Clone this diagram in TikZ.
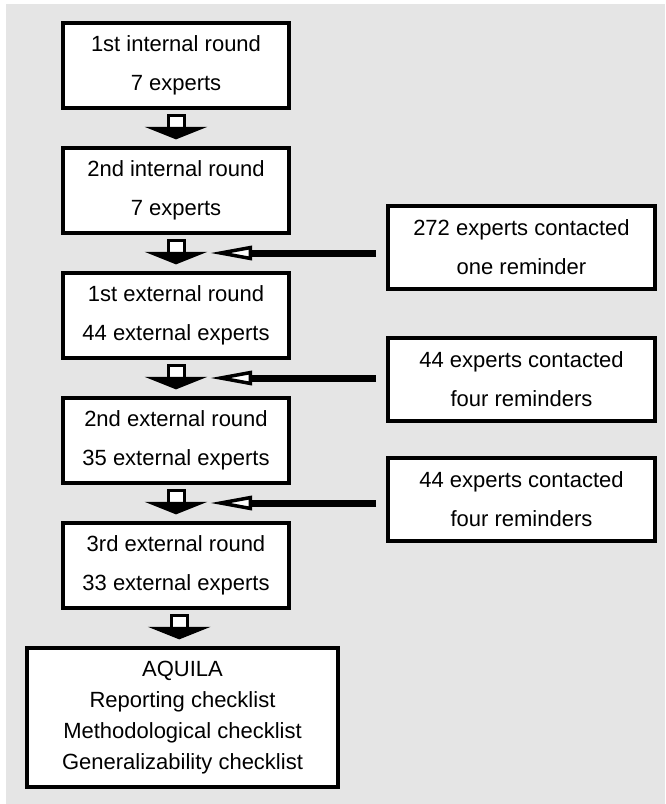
\documentclass[tikz,border=0pt]{standalone}
\usepackage{fontspec}
\setmainfont{Liberation Sans}
\usetikzlibrary{arrows.meta,calc}

\begin{document}
\begin{tikzpicture}[x=1pt,y=-1pt,
  round/.style={draw,line width=4pt,fill=white,minimum width=226pt,minimum height=85pt,inner sep=0pt,align=center,font=\fontsize{22}{39}\selectfont},
  contact/.style={round,minimum width=267pt,minimum height=83pt},
  reminder/.style={line width=7pt,shorten <=10pt,-{Triangle[length=42pt,width=14pt,fill=white,line width=3.5pt]}}]
  \fill[black!10] (6,4) rectangle (665,804);
  \useasboundingbox (0,0) rectangle (665,804);
  % rounds
  \node[round] (r1) at (176,65.5) {1st internal round\\7 experts};
  \node[round] (r2) at (176,190.5) {2nd internal round\\7 experts};
  \node[round] (r3) at (176,315.5) {1st external round\\44 external experts};
  \node[round] (r4) at (176,440.5) {2nd external round\\35 external experts};
  \node[round] (r5) at (176,565.5) {3rd external round\\33 external experts};
  \node[round,minimum width=311pt,minimum height=139pt,font=\fontsize{22}{31}\selectfont] (res) at (182.5,717.5)
    {AQUILA\\Reporting checklist\\Methodological checklist\\Generalizability checklist};
  % contacts
  \node[contact] (c1) at (521.5,247) {272 experts contacted\\one reminder};
  \node[contact] (c2) at (521.5,379.5) {44 experts contacted\\four reminders};
  \node[contact] (c3) at (521.5,499) {44 experts contacted\\four reminders};
  % block arrows
  \foreach \a/\b in {r1/r2,r2/r3,r3/r4,r4/r5,r5/res} {
    \coordinate (m) at ($(\a.south)!.5!(\b.north)$);
    \draw[line width=3pt,fill=white] ($(m)+(-8,-13)$) rectangle ($(m)+(8,0)$);
    \draw[line width=2.5pt,fill=black,line join=miter] ($(m)+(-25,0)$) -- ($(m)+(25,0)$) -- ($(m)+(0,10)$) -- cycle;
  }
  % reminders
  \coordinate (t1) at ($(r2.south)!.5!(r3.north)+(34,0)$);
  \coordinate (t2) at ($(r3.south)!.5!(r4.north)+(34,0)$);
  \coordinate (t3) at ($(r4.south)!.5!(r5.north)+(34,0)$);
  \draw[reminder] (c1.west |- t1) -- (t1);
  \draw[reminder] (c2.west |- t2) -- (t2);
  \draw[reminder] (c3.west |- t3) -- (t3);
\end{tikzpicture}
\end{document}
